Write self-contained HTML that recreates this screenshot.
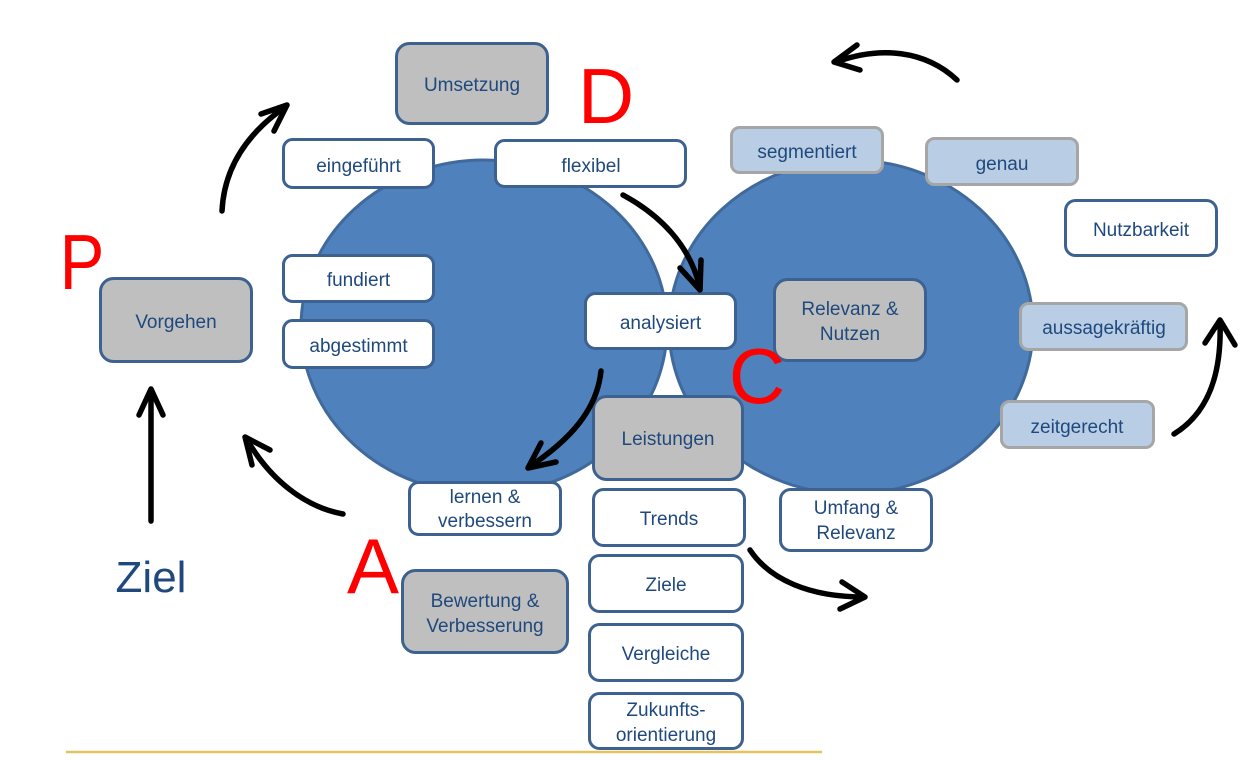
<!DOCTYPE html>
<html>
<head>
<meta charset="utf-8">
<style>
  html,body{margin:0;padding:0;background:#fff;}
  svg{display:block;}
  text{font-family:"Liberation Sans",Arial,sans-serif;}
  .t{font-size:19px;fill:#1F497D;text-anchor:middle;}
  .big{font-size:78px;fill:#FF0000;text-anchor:middle;}
  .w{fill:#fff;stroke:#3D6291;stroke-width:3;}
  .g{fill:#BFBFBF;stroke:#3D6291;stroke-width:3;}
  .lb{fill:#B9CDE5;stroke:#A6A6A6;stroke-width:3;}
  .ar{fill:none;stroke:#000;stroke-width:5.5;stroke-linecap:round;stroke-linejoin:round;}
</style>
</head>
<body>
<svg width="1258" height="760" viewBox="0 0 1258 760" xmlns="http://www.w3.org/2000/svg">
  <!-- circles -->
  <ellipse cx="484" cy="327" rx="183" ry="167" fill="#4F81BD" stroke="#3F6A9B" stroke-width="3"/>
  <ellipse cx="851" cy="327" rx="182" ry="167" fill="#4F81BD" stroke="#3F6A9B" stroke-width="3"/>

  <!-- bottom line -->
  <line x1="66" y1="752" x2="822" y2="752" stroke="#E5C35A" stroke-width="2.5"/>

  <!-- boxes -->
  <rect class="g" x="396.5" y="43.5" width="151" height="80" rx="13"/>
  <text class="t" x="472" y="91">Umsetzung</text>

  <rect class="w" x="283.5" y="139.5" width="150" height="48" rx="9"/>
  <text class="t" x="358.5" y="172">eingeführt</text>

  <rect class="w" x="495.5" y="140.5" width="190" height="46" rx="9"/>
  <text class="t" x="591" y="172">flexibel</text>

  <rect class="lb" x="731.5" y="127.5" width="151" height="45" rx="8"/>
  <text class="t" x="807" y="158">segmentiert</text>

  <rect class="lb" x="926.5" y="138.5" width="151" height="46" rx="8"/>
  <text class="t" x="1002" y="170">genau</text>

  <rect class="w" x="1065.5" y="200.5" width="151" height="55" rx="10"/>
  <text class="t" x="1141" y="236">Nutzbarkeit</text>

  <rect class="w" x="283.5" y="255.5" width="150" height="46" rx="9"/>
  <text class="t" x="358.5" y="286">fundiert</text>

  <rect class="w" x="283.5" y="320.5" width="150" height="47" rx="9"/>
  <text class="t" x="358.5" y="352">abgestimmt</text>

  <rect class="g" x="100.5" y="278.5" width="151" height="83" rx="13"/>
  <text class="t" x="176" y="328">Vorgehen</text>

  <rect class="w" x="585.5" y="293.5" width="150" height="55" rx="10"/>
  <text class="t" x="660.5" y="329">analysiert</text>

  <rect class="g" x="774.5" y="279.5" width="151" height="81" rx="13"/>
  <text class="t" x="850" y="315">Relevanz &amp;</text>
  <text class="t" x="850" y="340">Nutzen</text>

  <rect class="lb" x="1020.5" y="303.5" width="166" height="46" rx="8"/>
  <text class="t" x="1104" y="334">aussagekräftig</text>

  <rect class="lb" x="1001.5" y="401.5" width="152" height="46" rx="8"/>
  <text class="t" x="1077" y="433">zeitgerecht</text>

  <rect class="g" x="593.5" y="396.5" width="149" height="83" rx="13"/>
  <text class="t" x="668" y="445">Leistungen</text>

  <rect class="w" x="409.5" y="482.5" width="151" height="52" rx="9"/>
  <text class="t" x="485" y="503">lernen &amp;</text>
  <text class="t" x="485" y="527">verbessern</text>

  <rect class="w" x="593.5" y="489.5" width="151" height="56" rx="10"/>
  <text class="t" x="669" y="525">Trends</text>

  <rect class="w" x="780.5" y="489.5" width="151" height="61" rx="10"/>
  <text class="t" x="856" y="514">Umfang &amp;</text>
  <text class="t" x="856" y="539">Relevanz</text>

  <rect class="g" x="402.5" y="570.5" width="165" height="82" rx="13"/>
  <text class="t" x="485" y="607">Bewertung &amp;</text>
  <text class="t" x="485" y="632">Verbesserung</text>

  <rect class="w" x="589.5" y="555.5" width="153" height="56" rx="10"/>
  <text class="t" x="666" y="591">Ziele</text>

  <rect class="w" x="589.5" y="624.5" width="153" height="56" rx="10"/>
  <text class="t" x="666" y="660">Vergleiche</text>

  <rect class="w" x="589.5" y="693.5" width="153" height="55" rx="10"/>
  <text class="t" x="666" y="716">Zukunfts-</text>
  <text class="t" x="666" y="741">orientierung</text>

  <!-- big letters -->
  <text class="big" x="82" y="289" transform="translate(82 0) scale(0.86 1) translate(-82 0)">P</text>
  <text class="big" x="606" y="123">D</text>
  <text class="big" x="757" y="403">C</text>
  <text class="big" x="373" y="593">A</text>

  <text x="151" y="592" style="font-size:44px;fill:#1F497D;text-anchor:middle;">Ziel</text>

  <!-- arrows -->
  <path class="ar" d="M222,211 C224,170 245,135 285,107"/>
  <polyline class="ar" points="261,114 287,105 274,131"/>

  <path class="ar" d="M957,80 C925,50 880,46 836,62"/>
  <polyline class="ar" points="857,45 834,62 860,70"/>

  <path class="ar" d="M623,195 C660,215 690,245 700,288"/>
  <polyline class="ar" points="680,268 700,290 701,260"/>

  <path class="ar" d="M601,371 C597,410 570,440 529,467"/>
  <polyline class="ar" points="541,443 528,468 556,462"/>

  <path class="ar" d="M343,514 C305,507 270,480 246,438"/>
  <polyline class="ar" points="252,465 245,437 270,450"/>

  <path class="ar" d="M151,521 L151,390"/>
  <polyline class="ar" points="139,415 151,389 163,415"/>

  <path class="ar" d="M750,550 C770,580 810,597 864,597"/>
  <polyline class="ar" points="842,582 865,597 840,609"/>

  <path class="ar" d="M1174,434 C1205,415 1222,380 1220,322"/>
  <polyline class="ar" points="1205,343 1220,320 1235,345"/>
</svg>
</body>
</html>
